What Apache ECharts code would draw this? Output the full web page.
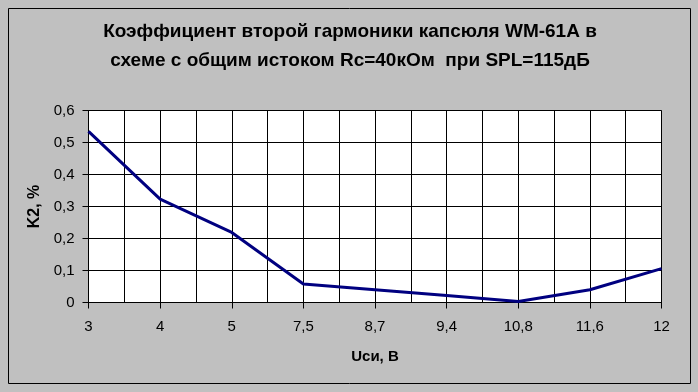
<!DOCTYPE html>
<html>
<head>
<meta charset="utf-8">
<script src="https://cdn.jsdelivr.net/npm/echarts@6/dist/echarts.min.js"></script>
<style>html,body{margin:0;padding:0;background:#fff}#c{width:698px;height:392px}</style>
</head>
<body>
<div id="c"></div>
<script>
const titleText = 'Коэффициент второй гармоники капсюля WM-61A в\nсхеме с общим истоком Rc=40кОм  при SPL=115дБ';
const xLabels = ['3', '4', '5', '7,5', '8,7', '9,4', '10,8', '11,6', '12'];
const k2Values = [0.535, 0.323, 0.219, 0.058, 0.040, 0.022, 0.003, 0.040, 0.106];
const xName = 'Uси, В';
const yName = 'K2, %';

const chart = echarts.init(document.getElementById('c'), null, {renderer: 'canvas'});
const font = 'Arial, "Liberation Sans", sans-serif';
chart.setOption({
  backgroundColor: '#c0c0c0',
  animation: false,
  textStyle: {fontFamily: font},
  graphic: [{
    type: 'rect', z: 100, silent: true,
    shape: {x: 8.5, y: 8.5, width: 682, height: 375},
    style: {fill: 'none', stroke: '#000', lineWidth: 1}
  }],
  title: {
    text: titleText,
    left: 345, top: 12, textAlign: 'center',
    textStyle: {fontFamily: font, fontSize: 19, fontWeight: 'bold', color: '#000', lineHeight: 29}
  },
  grid: {left: 88.5, right: 36.5, top: 110.5, bottom: 89.5, show: true, backgroundColor: '#fff', borderColor: '#808080', borderWidth: 1},
  xAxis: {
    type: 'value', min: 0, max: xLabels.length - 1, interval: 1,
    name: xName, nameLocation: 'middle', nameGap: 54,
    nameTextStyle: {fontFamily: font, fontSize: 15, fontWeight: 'bold', color: '#000', verticalAlign: 'middle'},
    axisLine: {lineStyle: {color: '#000', width: 1}},
    axisTick: {show: true, length: 6, lineStyle: {color: '#000'}},
    axisLabel: {margin: 17, fontSize: 15, color: '#000', fontFamily: font,
      formatter: v => xLabels[Math.round(v)] || ''},
    splitLine: {show: true, lineStyle: {color: '#000', width: 1}},
    minorTick: {show: false, splitNumber: 2},
    minorSplitLine: {show: true, lineStyle: {color: '#000', width: 1}}
  },
  yAxis: {
    type: 'value', min: 0, max: 0.6, interval: 0.1,
    name: yName, nameLocation: 'middle', nameGap: 54, nameRotate: 90,
    nameTextStyle: {fontFamily: font, fontSize: 16, fontWeight: 'bold', color: '#000', verticalAlign: 'middle'},
    axisLine: {show: true, lineStyle: {color: '#000', width: 1}},
    axisTick: {show: true, length: 6, lineStyle: {color: '#000'}},
    axisLabel: {margin: 14, fontSize: 15, color: '#000', fontFamily: font,
      formatter: v => (Math.round(v * 10) / 10).toString().replace('.', ',')},
    splitLine: {show: true, lineStyle: {color: '#000', width: 1}}
  },
  series: [{
    type: 'line',
    data: k2Values.map((v, i) => [i, v]),
    showSymbol: false,
    lineStyle: {color: '#000080', width: 3},
    itemStyle: {color: '#000080'}
  }]
});
</script>
</body>
</html>
